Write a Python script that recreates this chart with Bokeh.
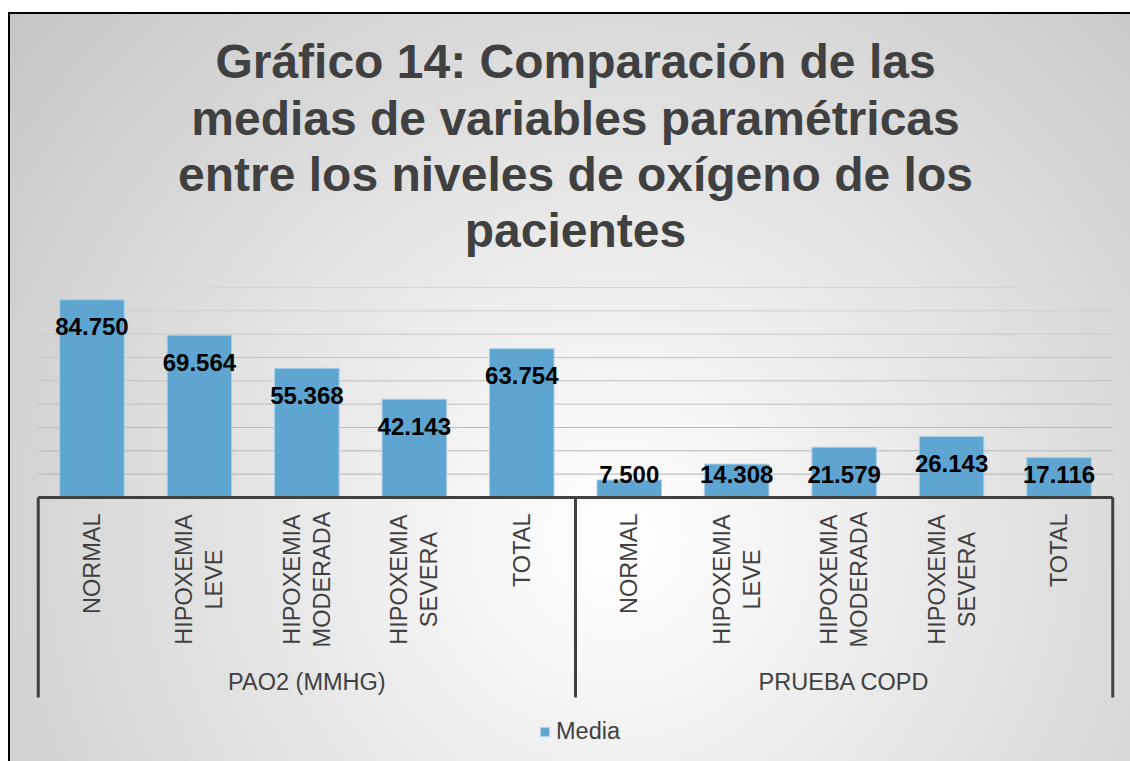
import math
from bokeh.plotting import figure
from bokeh.models import (FactorRange, Range1d, ColumnDataSource, Legend, LegendItem)
from bokeh.core.properties import value, field
from bokeh.embed import file_html
from bokeh.resources import INLINE

# ---------------- data ----------------
groups = ["PAO2 (MMHG)", "PRUEBA COPD"]
levels = ["NORMAL", "HIPOXEMIA\nLEVE", "HIPOXEMIA\nMODERADA", "HIPOXEMIA\nSEVERA", "TOTAL"]
pao2_means = [84.750, 69.564, 55.368, 42.143, 63.754]
copd_means = [7.500, 14.308, 21.579, 26.143, 17.116]
series_name = "Media"
title_lines = [
    "Gráfico 14: Comparación de las",
    "medias de variables paramétricas",
    "entre los niveles de oxígeno de los",
    "pacientes",
]
grid_ticks = list(range(10, 91, 10))

# ---------------- layout / style ----------------
FONT = "Liberation Sans"
W, H = 1130, 761
MB_L, MB_R = 27, 7          # frame spans the full height of the canvas
PAD = 0.1                   # category padding at both ends of the x range
Y0 = 497.0                  # canvas y of value 0
PPU = 210.0 / 90.0          # pixels per value unit


def py(canvas_y):
    """canvas y (pixels from top) -> data y"""
    return (Y0 - canvas_y) / PPU


BAR = "#5ea5d1"
DARK = "#404040"

factors = [(g, lv.replace("\n", " ")) for g in groups for lv in levels]
vals = pao2_means + copd_means
N = len(factors)
n = len(levels)

label_y = [max(v - 27 / PPU, py(474)) for v in vals]
src = ColumnDataSource(dict(x=factors, top=vals,
                            label=[f"{v:.3f}" for v in vals], ly=label_y))

xr = FactorRange(*factors, range_padding=PAD, range_padding_units="absolute",
                 factor_padding=0, group_padding=0, subgroup_padding=0)
yr = Range1d(py(H), py(0))

bg = ("linear-gradient(#ffffff,#ffffff) 0 0 / 100% 12px no-repeat, "
      "linear-gradient(#ffffff,#ffffff) 0 0 / 8px 100% no-repeat, "
      "linear-gradient(#000000,#000000) 8px 12px / 100% 2px no-repeat, "
      "linear-gradient(#000000,#000000) 8px 12px / 2px 100% no-repeat, "
      "radial-gradient(circle 820px at 615px 540px, #ffffff 0%, #f7f7f7 15%, #c4c4c4 100%)")

p = figure(x_range=xr, y_range=yr, width=W, height=H,
           output_backend="svg", toolbar_location=None,
           min_border_left=MB_L, min_border_right=MB_R,
           min_border_top=0, min_border_bottom=0,
           border_fill_color=None, background_fill_color=None,
           outline_line_color=None, styles={"background": bg})

p.xaxis.visible = False
p.yaxis.visible = False
p.xgrid.visible = False
p.ygrid.visible = False

# horizontal gridlines across the category span (slightly fading towards the top)
grid_colors = ["#b4b4b4", "#b7b7b7", "#bababa", "#bebebe", "#c2c2c2",
               "#c6c6c6", "#cacaca", "#cfcfcf", "#d6d6d6"]
p.segment(x0=[0] * len(grid_ticks), x1=[N] * len(grid_ticks),
          y0=grid_ticks, y1=grid_ticks, line_color=grid_colors, line_width=1)

r = p.vbar(x="x", top="top", width=0.6, source=src,
           fill_color=BAR, line_color="#a9d0ea", line_width=1)

# data labels
p.text(x="x", y="ly", text="label", source=src,
       text_font=value(FONT), text_font_style="bold", text_font_size="24px",
       text_color="black", text_align="center", text_baseline="middle")

# category axis line and group separators
p.segment(x0=[0], x1=[N], y0=[0], y1=[0], line_color=DARK, line_width=3)
p.segment(x0=[0, n, N], x1=[0, n, N], y0=[0, 0, 0], y1=[py(697)] * 3,
          line_color=DARK, line_width=3)

# sub-category labels (rotated)
sub_text = [lv for g in groups for lv in levels]
sub_src = ColumnDataSource(dict(
    x=factors, text=sub_text,
    align=["center" if "\n" in t else "right" for t in sub_text],
    y=[py(579) if "\n" in t else py(513) for t in sub_text]))
p.text(x="x", y="y", text="text", source=sub_src, angle=math.pi / 2,
       text_align=field("align"), text_baseline="middle",
       text_font=value(FONT), text_font_size="23.5px", text_color=DARK,
       text_line_height=1.15)

# group labels
p.text(x=groups, y=[py(681)] * len(groups), text=groups,
       text_align="center", text_baseline="middle",
       text_font=value(FONT), text_font_size="23.5px", text_color=DARK)

# title
title_y = [py(61), py(117.7), py(173.9), py(229.8)]
p.text(x=[N / 2] * len(title_lines), y=title_y, text=title_lines,
       text_align="center", text_baseline="middle",
       text_font=value(FONT), text_font_style="bold", text_font_size="48px",
       text_color=DARK)

# legend
legend = Legend(items=[LegendItem(label=value(series_name), renderers=[r])],
                location=(512, 16), orientation="horizontal",
                glyph_width=11, glyph_height=11, label_standoff=6,
                padding=0, margin=0, spacing=0,
                border_line_color=None, background_fill_color=None,
                background_fill_alpha=0,
                label_text_font=FONT, label_text_font_size="23.5px",
                label_text_color=DARK)
p.add_layout(legend, "center")

open("out.html", "w").write(file_html(p, INLINE))
